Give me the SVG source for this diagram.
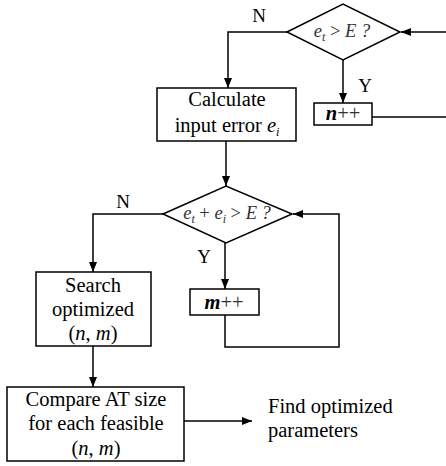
<svg xmlns="http://www.w3.org/2000/svg" width="446" height="466" viewBox="0 0 446 466">
<style>
.b{fill:#fff;stroke:#000;stroke-width:1.5}
.l{fill:none;stroke:#000;stroke-width:1.5}
text{font-family:"Liberation Serif","Times New Roman",serif;font-size:20.5px;fill:#000}
.c{text-anchor:middle}
.i{font-style:italic}
.d{font-size:18.5px;fill:#333}
.s{font-size:12px}
.bi{font-style:italic;font-weight:bold}
.lb{font-size:19px}
</style>
<defs>
<marker id="a" markerWidth="10" markerHeight="8" refX="10" refY="4" orient="auto" markerUnits="userSpaceOnUse"><path d="M0,0 L10,4 L0,8 z" fill="#000"/></marker>
</defs>
<g id="connectors">
<path class="l" d="M446,32 H401" marker-end="url(#a)"/>
<path class="l" d="M287,32 H228 V88" marker-end="url(#a)"/>
<path class="l" d="M343,60 V103" marker-end="url(#a)"/>
<path class="l" d="M372,117 H446"/>
<path class="l" d="M226,141 V186" marker-end="url(#a)"/>
<path class="l" d="M163,214 H93 V272" marker-end="url(#a)"/>
<path class="l" d="M225,243 V289" marker-end="url(#a)"/>
<path class="l" d="M225,315 V347 H339 V214 H293" marker-end="url(#a)"/>
<path class="l" d="M93,346 V387" marker-end="url(#a)"/>
<path class="l" d="M184,421 H252" marker-end="url(#a)"/>
<text x="259" y="22" class="c lb">N</text>
<text x="365" y="92" class="c lb">Y</text>
<text x="123" y="208" class="c lb">N</text>
<text x="204" y="263" class="c lb">Y</text>
</g>
<g id="check1">
<polygon class="b" points="287,32 343,4 400,32 343,60"/>
<text x="342" y="37" class="c d"><tspan class="i">e</tspan><tspan class="i s" dy="4">t</tspan><tspan dy="-4"> &gt; </tspan><tspan class="i">E ?</tspan></text>
</g>
<g id="calc">
<rect class="b" x="157" y="88" width="139" height="53"/>
<text x="227" y="106" class="c">Calculate</text>
<text x="227" y="132" class="c">input error <tspan class="i">e</tspan><tspan class="i s" dy="4">i</tspan></text>
</g>
<g id="ninc">
<rect class="b" x="314" y="103" width="58" height="22"/>
<text x="343" y="120" class="c"><tspan class="bi">n</tspan><tspan fill="#333">++</tspan></text>
</g>
<g id="check2">
<polygon class="b" points="163,214 226,186 292,214 226,243"/>
<text x="227" y="219" class="c d"><tspan class="i">e</tspan><tspan class="i s" dy="4">t</tspan><tspan dy="-4"> + </tspan><tspan class="i">e</tspan><tspan class="i s" dy="4">i</tspan><tspan dy="-4"> &gt; </tspan><tspan class="i">E ?</tspan></text>
</g>
<g id="minc">
<rect class="b" x="190" y="289" width="69" height="26"/>
<text x="224" y="309" class="c"><tspan class="bi">m</tspan><tspan fill="#333">++</tspan></text>
</g>
<g id="search">
<rect class="b" x="36" y="272" width="115" height="74"/>
<text x="93" y="292" class="c">Search</text>
<text x="93" y="316" class="c">optimized</text>
<text x="93" y="340" class="c">(<tspan class="i">n</tspan>, <tspan class="i">m</tspan>)</text>
</g>
<g id="compare">
<rect class="b" x="7" y="387" width="177" height="74"/>
<text x="96" y="406" class="c">Compare AT size</text>
<text x="96" y="430" class="c">for each feasible</text>
<text x="96" y="455" class="c">(<tspan class="i">n</tspan>, <tspan class="i">m</tspan>)</text>
</g>
<g id="result">
<text x="268" y="413">Find optimized</text>
<text x="268" y="437">parameters</text>
</g>
</svg>
